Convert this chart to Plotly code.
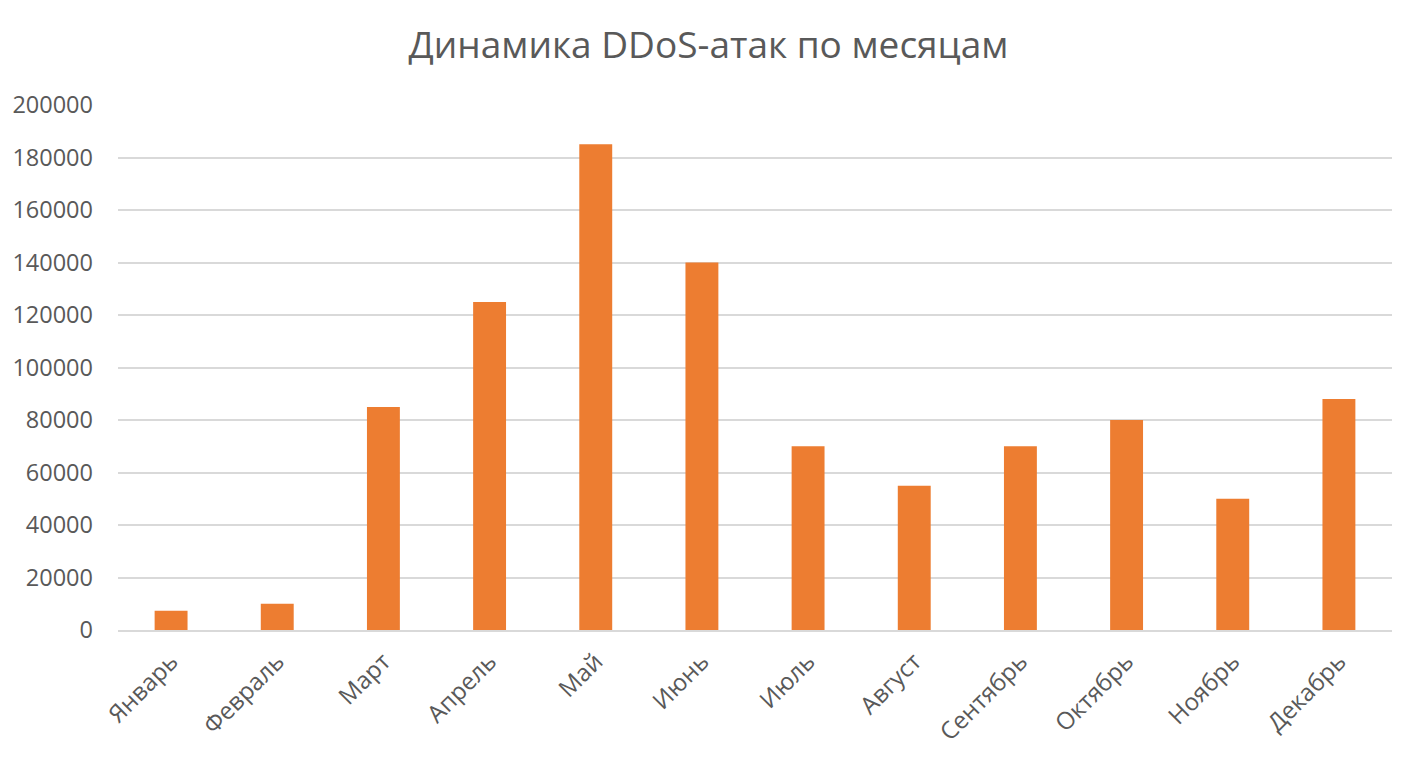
import plotly.graph_objects as go

months = ["Январь", "Февраль", "Март", "Апрель", "Май", "Июнь",
          "Июль", "Август", "Сентябрь", "Октябрь", "Ноябрь", "Декабрь"]
attacks = [7300, 10000, 85000, 125000, 185000, 140000,
           70000, 55000, 70000, 80000, 50000, 88000]
y_ticks = [0, 20000, 40000, 60000, 80000, 100000, 120000, 140000, 160000, 180000, 200000]
title_text = "Динамика DDoS-атак по месяцам"

fig = go.Figure(go.Bar(x=months, y=attacks, marker_color="#ED7D31",
                       marker_line_width=0))

font_family = "Open Sans"
fig.update_layout(
    width=1417, height=759,
    margin=dict(l=118, r=25, t=105, b=129),
    paper_bgcolor="white", plot_bgcolor="white",
    bargap=0.69,
    showlegend=False,
    title=dict(text=title_text, x=0.5, xanchor="center", y=0.94, yanchor="middle",
               font=dict(family=font_family, size=37, color="#595959")),
    font=dict(family=font_family, color="#595959"),
)
fig.update_xaxes(tickangle=-45, tickfont=dict(size=24, color="#595959"),
                 showgrid=False, showline=True, linecolor="#d9d9d9", linewidth=2,
                 ticks="", ticklabelstandoff=6)
fig.update_yaxes(range=[0, 200000], tickvals=y_ticks, ticktext=[str(v) for v in y_ticks],
                 tickfont=dict(size=23.5, color="#595959"),
                 showgrid=True, gridcolor="#d9d9d9", gridwidth=2,
                 zeroline=False, showline=False, ticks="", ticklabelstandoff=24)

fig.write_html("out.html")
